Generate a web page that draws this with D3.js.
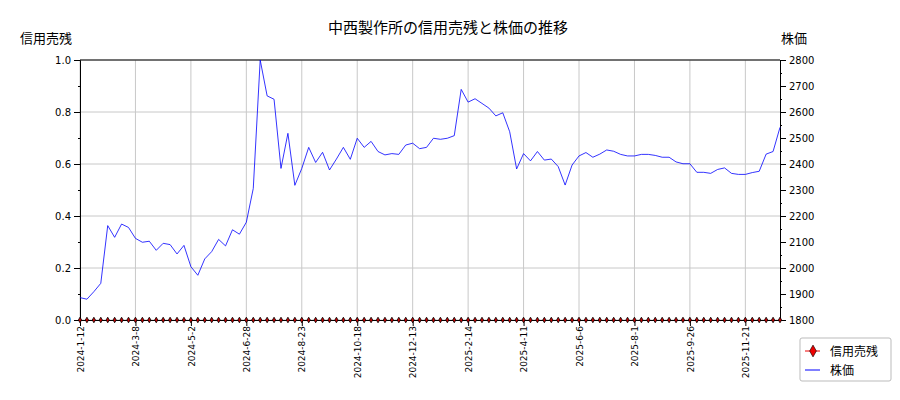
<!DOCTYPE html>
<html><head><meta charset="utf-8">
<script src="https://cdn.jsdelivr.net/npm/d3@7"></script>
<style>
body{margin:0;background:#fff;font-family:"DejaVu Sans",sans-serif;}
</style></head><body><div id="chart"></div>
<script>
const tickLabels = ["2024-1-12","2024-3-8","2024-5-2","2024-6-28","2024-8-23","2024-10-18","2024-12-13","2025-2-14","2025-4-11","2025-6-6","2025-8-1","2025-9-26","2025-11-21"];
const price = [1886,1880,1909,1941,2163,2118,2169,2156,2114,2099,2103,2068,2095,2090,2054,2087,2005,1972,2035,2063,
  2110,2085,2147,2130,2176,2306,2800,2662,2649,2383,2518,2318,2383,2464,2406,2445,2377,2419,2464,2418,
  2499,2464,2487,2448,2435,2440,2437,2473,2480,2459,2464,2499,2495,2499,2509,2687,2638,2651,2633,2615,
  2585,2597,2524,2381,2440,2412,2448,2415,2419,2390,2319,2396,2431,2444,2426,2438,2454,2449,2437,2431,
  2431,2437,2437,2433,2426,2426,2408,2401,2401,2368,2368,2364,2379,2385,2364,2360,2360,2367,2372,2438,
  2448,2541];
const credit = price.map(() => 0);

const W = 900, H = 400, L = 80, R = 780, T = 60, B = 320;
const svg = d3.select("#chart").append("svg").attr("width", W).attr("height", H);

const x = d3.scaleLinear().domain([0, price.length - 1]).range([L, R]);
const yL = d3.scaleLinear().domain([0, 1]).range([B, T]);
const yR = d3.scaleLinear().domain([1800, 2800]).range([B, T]);
const tickIdx = tickLabels.map((d, i) => i * 8);

// grid
svg.append("g").selectAll("line").data(d3.range(0, 1.01, 0.2)).enter().append("line")
  .attr("x1", L).attr("x2", R).attr("y1", d => yL(d)).attr("y2", d => yL(d))
  .attr("stroke", "#c8c8c8").attr("stroke-width", 1);
svg.append("g").selectAll("line").data(tickIdx).enter().append("line")
  .attr("x1", d => x(d)).attr("x2", d => x(d)).attr("y1", T).attr("y2", B)
  .attr("stroke", "#c8c8c8").attr("stroke-width", 1);

// axes
const fmt = d3.format(".1f");
svg.append("g").attr("transform", `translate(${L},0)`)
  .call(d3.axisLeft(yL).tickValues(d3.range(0, 1.01, 0.2)).tickFormat(fmt).tickSizeOuter(0));
svg.append("g").attr("transform", `translate(${L},0)`)
  .call(d3.axisLeft(yL).tickValues(d3.range(0.1, 1, 0.2)).tickFormat("").tickSize(2).tickSizeOuter(0));
svg.append("g").attr("transform", `translate(${R},0)`)
  .call(d3.axisRight(yR).tickValues(d3.range(1800, 2801, 100)).tickFormat(d3.format("d")).tickSizeOuter(0));
svg.append("g").attr("transform", `translate(${R},0)`)
  .call(d3.axisRight(yR).tickValues(d3.range(1850, 2800, 100)).tickFormat("").tickSize(2).tickSizeOuter(0));
const gX = svg.append("g").attr("transform", `translate(0,${B})`)
  .call(d3.axisBottom(x).tickValues(tickIdx).tickFormat((d, i) => tickLabels[i]).tickSizeOuter(0));
gX.selectAll("text").attr("transform", "rotate(-90)").attr("text-anchor", "end")
  .attr("x", -6).attr("y", 0).attr("dy", "0.35em");
svg.append("line").attr("x1", L).attr("x2", R).attr("y1", T).attr("y2", T).attr("stroke", "#000");
svg.selectAll(".domain").attr("stroke", "#000");
svg.selectAll(".tick line").attr("stroke", "#000");
svg.selectAll(".tick text").attr("font-family", "DejaVu Sans").attr("font-size", 10).attr("fill", "#000");
gX.selectAll(".tick text").attr("font-size", 9);

// line
svg.append("path").datum(price)
  .attr("d", d3.line().x((d, i) => x(i)).y(d => yR(d)))
  .attr("fill", "none").attr("stroke", "#0000ff").attr("stroke-width", 0.8);

// credit markers
const diamond = d3.symbol().type(d3.symbolDiamond).size(9);
svg.append("g").selectAll("path").data(credit).enter().append("path")
  .attr("d", diamond).attr("transform", (d, i) => `translate(${x(i)},${yL(d)})`)
  .attr("fill", "#c00").attr("stroke", "#000").attr("stroke-width", 0.8);

// texts
svg.append("text").attr("x", 448).attr("y", 33).attr("text-anchor", "middle")
  .attr("font-family", "Noto Sans CJK JP").attr("font-size", 15).text("中西製作所の信用売残と株価の推移");
svg.append("text").attr("x", 20).attr("y", 43).attr("font-family", "Noto Sans CJK JP").attr("font-size", 13).text("信用売残");
svg.append("text").attr("x", 781).attr("y", 43).attr("font-family", "Noto Sans CJK JP").attr("font-size", 13).text("株価");

// legend
const lg = svg.append("g").attr("transform", "translate(800,338)");
lg.append("rect").attr("width", 91).attr("height", 43).attr("fill", "#fff").attr("stroke", "#bbb").attr("rx", 2);
lg.append("line").attr("x1", 5).attr("x2", 20).attr("y1", 13).attr("y2", 13).attr("stroke", "#e00");
lg.append("path").attr("d", d3.symbol().type(d3.symbolDiamond).size(40)).attr("transform", "translate(13,13)")
  .attr("fill", "#e00").attr("stroke", "#000").attr("stroke-width", 0.6);
lg.append("line").attr("x1", 5).attr("x2", 20).attr("y1", 32).attr("y2", 32).attr("stroke", "#0000ff");
lg.append("text").attr("x", 30).attr("y", 17.5).attr("font-family", "Noto Sans CJK JP").attr("font-size", 12).text("信用売残");
lg.append("text").attr("x", 30).attr("y", 36.5).attr("font-family", "Noto Sans CJK JP").attr("font-size", 12).text("株価");
</script></body></html>
